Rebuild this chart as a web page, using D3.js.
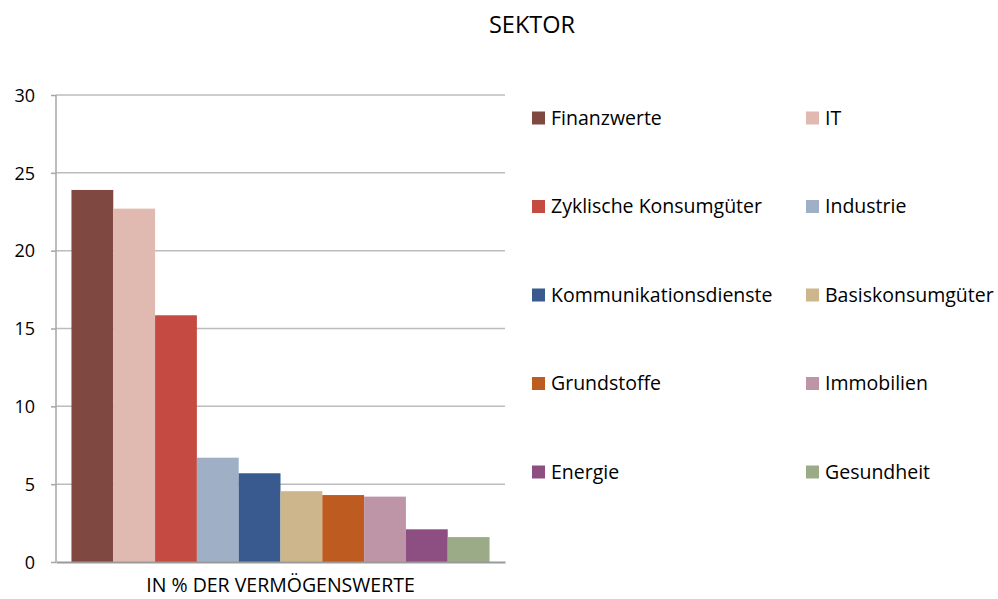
<!DOCTYPE html>
<html>
<head>
<meta charset="utf-8">
<script src="https://cdn.jsdelivr.net/npm/d3@7"></script>
<style>
  body { margin: 0; background: #fff; }
  text { font-family: "Open Sans", sans-serif; fill: #000; }
</style>
</head>
<body>
<div id="drawing"></div>
<script>
const width = 998;
const height = 599;
const margin = {top: 95, right: 493, bottom: 37, left: 56};

// data
const categories = ["IN % DER VERMÖGENSWERTE"];
const sectors = ["Finanzwerte", "IT", "Zyklische Konsumgüter", "Industrie",
  "Kommunikationsdienste", "Basiskonsumgüter", "Grundstoffe", "Immobilien",
  "Energie", "Gesundheit"];
const values = [23.9, 22.7, 15.85, 6.7, 5.7, 4.55, 4.3, 4.2, 2.1, 1.6];
const colors = ["#7f4840", "#e0bab0", "#c54a42", "#9eafc6", "#385a8e",
  "#cdb68b", "#bd5b20", "#be95a6", "#8d4e82", "#9bab88"];
const yTicks = [0, 5, 10, 15, 20, 25, 30];

const innerW = width - margin.left - margin.right;
const innerH = height - margin.top - margin.bottom;

const svg = d3.select("#drawing").append("svg")
  .attr("width", width)
  .attr("height", height);

const g = svg.append("g")
  .attr("transform", `translate(${margin.left}, ${margin.top})`);

const yScale = d3.scaleLinear().domain([0, 30]).range([innerH, 0]);
const xCat = d3.scaleBand().domain(categories).range([0, innerW])
  .paddingInner(0).paddingOuter(0.037);
const xSer = d3.scaleBand().domain(sectors).range([0, xCat.bandwidth()]);

// gridlines
g.selectAll(".grid")
  .data(yTicks.filter(d => d > 0))
  .enter()
  .append("line")
    .attr("x1", 0)
    .attr("x2", innerW)
    .attr("y1", d => yScale(d))
    .attr("y2", d => yScale(d))
    .style("stroke", "#bcbcbc")
    .style("stroke-width", 1.5);

// bars
g.selectAll(".bar")
  .data(sectors)
  .enter()
  .append("rect")
    .attr("x", d => xCat(categories[0]) + xSer(d))
    .attr("y", (d, i) => yScale(values[i]))
    .attr("width", xSer.bandwidth())
    .attr("height", (d, i) => innerH - yScale(values[i]))
    .style("fill", (d, i) => colors[i]);

// y axis
const yAxis = g.append("g")
  .call(d3.axisLeft(yScale).tickValues(yTicks).tickSize(5).tickPadding(16));
yAxis.select(".domain").style("stroke", "#a6a6a6").style("stroke-width", 1.5)
  .attr("d", `M0,0V${innerH}`);
yAxis.selectAll(".tick line").style("stroke", "#a6a6a6").style("stroke-width", 1.5);
yAxis.selectAll(".tick text").style("font-size", "18px")
  .style("font-family", "Open Sans, sans-serif").attr("dy", "0.35em");

// x axis
const xAxis = g.append("g")
  .attr("transform", `translate(0, ${innerH})`)
  .call(d3.axisBottom(xCat).tickSize(0).tickPadding(16));
xAxis.select(".domain").style("stroke", "#9a9a9a").style("stroke-width", 2);
xAxis.selectAll(".tick text").style("font-size", "19.5px")
  .style("font-family", "Open Sans, sans-serif");

// title
svg.append("text")
  .attr("x", 532)
  .attr("y", 33)
  .attr("text-anchor", "middle")
  .style("font-size", "23.5px")
  .text("SEKTOR");

// legend, two columns
const legend = svg.append("g");
const item = legend.selectAll(".item")
  .data(sectors)
  .enter()
  .append("g")
    .attr("transform", (d, i) => `translate(${i % 2 === 0 ? 532 : 806}, ${118 + Math.floor(i / 2) * 88.5})`);
item.append("rect")
  .attr("x", 0)
  .attr("y", -6.5)
  .attr("width", 13)
  .attr("height", 13)
  .style("fill", (d, i) => colors[i]);
item.append("text")
  .attr("x", 19)
  .attr("dy", "0.35em")
  .style("font-size", "19.5px")
  .text(d => d);
</script>
</body>
</html>
